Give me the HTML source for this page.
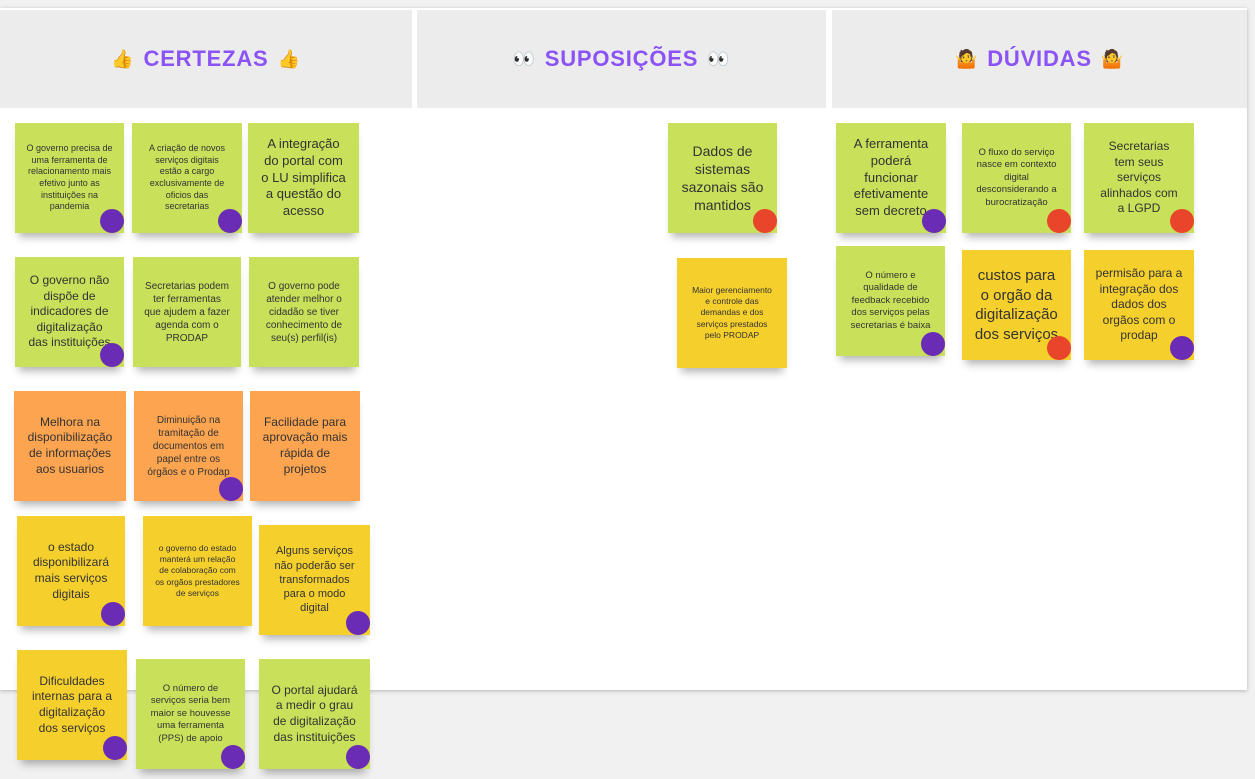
<!DOCTYPE html>
<html><head><meta charset="utf-8"><style>
body{margin:0;width:1255px;height:779px;background:#f1f1f1;position:relative;overflow:hidden;font-family:"Liberation Sans",sans-serif}
.board{position:absolute;left:0;top:8px;width:1247px;height:682px;background:#fff;box-shadow:0 1px 4px rgba(0,0,0,.25)}
.hd{position:absolute;top:10px;height:98px;background:#ececec;display:flex;align-items:center;justify-content:center;color:#8b52f5;font-weight:bold;font-size:22px;letter-spacing:.8px}
.hd span.e{font-size:18px;margin:0 9px;color:#f4b400}
.s{position:absolute;display:flex;align-items:center;justify-content:center;text-align:center;color:#333;box-sizing:border-box;padding:6px 11px;line-height:1.3;box-shadow:0 8px 8px -4px rgba(0,0,0,.3)}
.g{background:#c9e05a}.o{background:#fca44f}.y{background:#f5cf2c}
.d{position:absolute;width:24px;height:24px;border-radius:50%;right:0;bottom:0}
.p{background:#6a2bb5}.r{background:#e8452a}
</style></head><body>
<div class="board"></div>
<div class="hd" style="left:0;width:412px"><span class="e">👍</span>CERTEZAS<span class="e">👍</span></div>
<div class="hd" style="left:417px;width:409px"><span class="e" style="color:#333">👀</span>SUPOSIÇÕES<span class="e" style="color:#333">👀</span></div>
<div class="hd" style="left:832px;width:415px"><span class="e">🤷</span>DÚVIDAS<span class="e">🤷</span></div>

<div class="s g" style="left:15px;top:123px;width:109px;height:110px;font-size:9px">O governo precisa de uma ferramenta de relacionamento mais efetivo junto as instituições na pandemia<div class="d p"></div></div>
<div class="s g" style="left:132px;top:123px;width:110px;height:110px;font-size:9px">A criação de novos serviços digitais estão a cargo exclusivamente de oficios das secretarias<div class="d p"></div></div>
<div class="s g" style="left:248px;top:123px;width:111px;height:110px;font-size:13px">A integração do portal com o LU simplifica a questão do acesso</div>

<div class="s g" style="left:15px;top:257px;width:109px;height:110px;font-size:12px">O governo não dispõe de indicadores de digitalização das instituições<div class="d p"></div></div>
<div class="s g" style="left:133px;top:257px;width:108px;height:110px;font-size:10px">Secretarias podem ter ferramentas que ajudem a fazer agenda com o PRODAP</div>
<div class="s g" style="left:249px;top:257px;width:110px;height:110px;font-size:10px">O governo pode atender melhor o cidadão se tiver conhecimento de seu(s) perfil(is)</div>

<div class="s o" style="left:14px;top:391px;width:112px;height:110px;font-size:12px">Melhora na disponibilização de informações aos usuarios</div>
<div class="s o" style="left:134px;top:391px;width:109px;height:110px;font-size:10px">Diminuição na tramitação de documentos em papel entre os órgãos e o Prodap<div class="d p"></div></div>
<div class="s o" style="left:250px;top:391px;width:110px;height:110px;font-size:12px">Facilidade para aprovação mais rápida de projetos</div>

<div class="s y" style="left:17px;top:516px;width:108px;height:110px;font-size:12px">o estado disponibilizará mais serviços digitais<div class="d p"></div></div>
<div class="s y" style="left:143px;top:516px;width:109px;height:110px;font-size:8.5px">o governo do estado manterá um relação de colaboração com os orgãos prestadores de serviços</div>
<div class="s y" style="left:259px;top:525px;width:111px;height:110px;font-size:11px">Alguns serviços não poderão ser transformados para o modo digital<div class="d p"></div></div>

<div class="s y" style="left:17px;top:650px;width:110px;height:110px;font-size:12px">Dificuldades internas para a digitalização dos serviços<div class="d p"></div></div>
<div class="s g" style="left:136px;top:659px;width:109px;height:110px;font-size:9.5px">O número de serviços seria bem maior se houvesse uma ferramenta (PPS) de apoio<div class="d p"></div></div>
<div class="s g" style="left:259px;top:659px;width:111px;height:110px;font-size:12px">O portal ajudará a medir o grau de digitalização das instituições<div class="d p"></div></div>

<div class="s g" style="left:668px;top:123px;width:109px;height:110px;font-size:14px">Dados de sistemas sazonais são mantidos<div class="d r"></div></div>
<div class="s y" style="left:677px;top:258px;width:110px;height:110px;font-size:8.5px;padding:6px 14px">Maior gerenciamento e controle das demandas e dos serviços prestados pelo PRODAP</div>

<div class="s g" style="left:836px;top:123px;width:110px;height:110px;font-size:13px">A ferramenta poderá funcionar efetivamente sem decreto<div class="d p"></div></div>
<div class="s g" style="left:962px;top:123px;width:109px;height:110px;font-size:9.5px">O fluxo do serviço nasce em contexto digital desconsiderando a burocratização<div class="d r"></div></div>
<div class="s g" style="left:1084px;top:123px;width:110px;height:110px;font-size:12px;padding:6px 14px">Secretarias tem seus serviços alinhados com a LGPD<div class="d r"></div></div>
<div class="s g" style="left:836px;top:246px;width:109px;height:110px;font-size:9.5px">O número e qualidade de feedback recebido dos serviços pelas secretarias é baixa<div class="d p"></div></div>
<div class="s y" style="left:962px;top:250px;width:109px;height:110px;font-size:15px">custos para o orgão da digitalização dos serviços<div class="d r"></div></div>
<div class="s y" style="left:1084px;top:250px;width:110px;height:110px;font-size:12px">permisão para a integração dos dados dos orgãos com o prodap<div class="d p"></div></div>
</body></html>
